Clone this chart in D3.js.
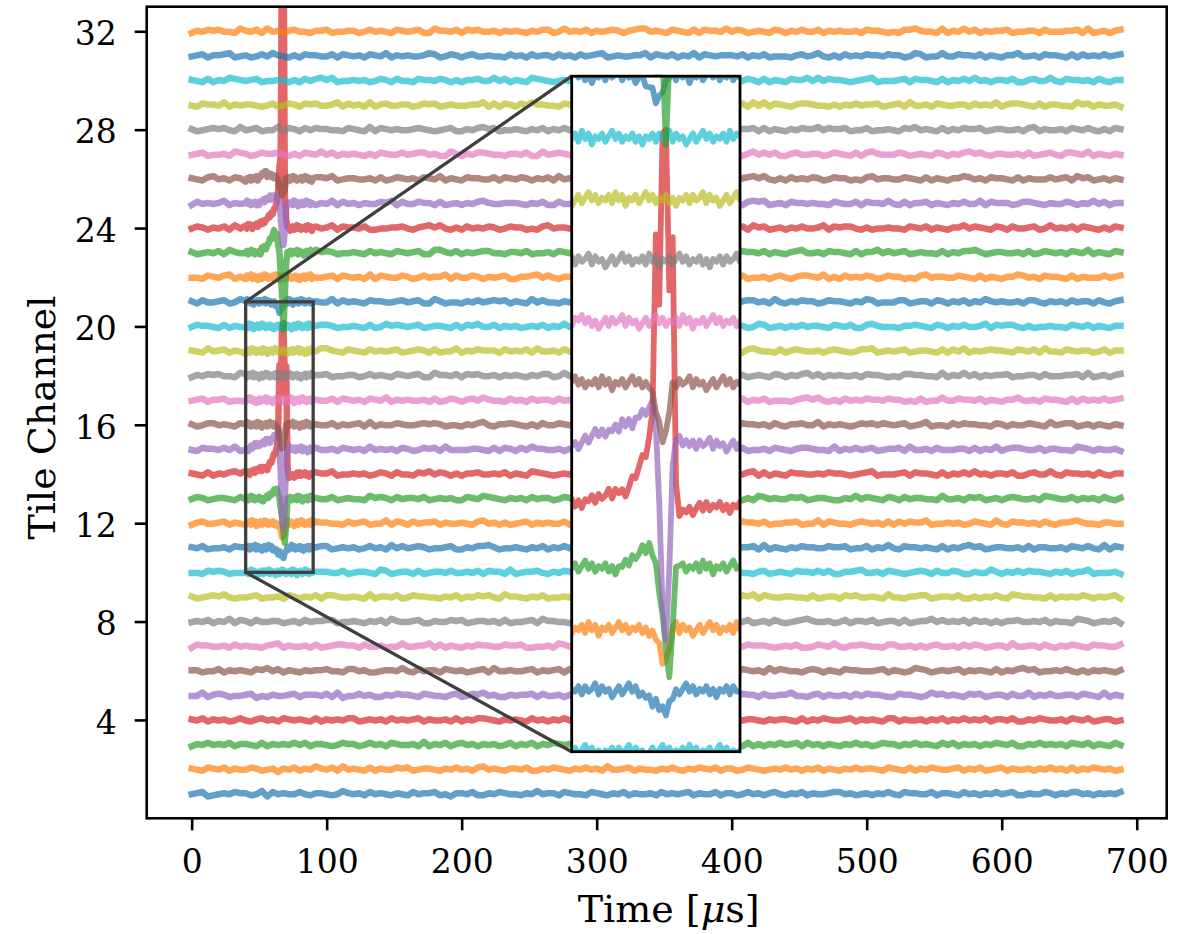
<!DOCTYPE html>
<html>
<head>
<meta charset="utf-8">
<script src="https://cdn.jsdelivr.net/npm/d3@7"></script>
<style>
  body { margin: 0; background: #fff; }
  svg text { font-family: "DejaVu Serif", serif; fill: #000; }
</style>
</head>
<body>
<svg id="chart" width="1189" height="934"></svg>
<script>
// ---------------- DATA ----------------
const channels = [1,2,3,4,5,6,7,8,9,10,11,12,13,14,15,16,17,18,19,20,21,22,23,24,25,26,27,28,29,30,31,32];
const xTicks = [0, 100, 200, 300, 400, 500, 600, 700];
const yTicks = [4, 8, 12, 16, 20, 24, 28, 32];
const xLabel = "Time [";
const xLabelMu = "μ";
const xLabelEnd = "s]";
const yLabel = "Tile Channel";

// sampled trace deviations, one digit per sample (every 4 µs from t = 0 to 688)
const sampleStep = 4;
const tMax = 688;
const noiseScale = 0.045;
const noiseBase = [
"4562345465 5347264544 6435543475 4536454354 3645563425 5463354654 4354745536 5443654354 6354453645 4563544635 5346453564 3546354456 6453453546 4365544635 5436453546 4563354465 3546645354 5463545346",
"5436546354 4653452546 3547546374 5436354465 6345543546 4536745435 5463354654 3546453744 5635443546 4354654635 5346543454 6453546354 3546455436 5436354654 4563546345 6354453546 4536354654 5346545435",
"3546454635 5436354546 4635543465 5346453654 4537354635 6453545346 3546354654 5463545436 4356453546 6345544635 5436353546 4563645354 3546453465 5354645436 4635453546 5463354645 4536546354 3645453546",
"5463545346 4356453654 5436354546 6345453645 4563544536 3546654354 5436453546 4653354465 5346546354 4563453646 3645543545 5436354654 4563545436 6354453546 3546454635 5463354654 4536546345 5346453546",
"4473565344 5624354456 3555463724 4645335465 5436544356 3465745335 4556364453 5345546374 4653354556 3547445365 4365536445 5744356354 4536465543 3655434756 4543656345 5364473546 4455365437 3546554465",
"5534463545 4365746354 3545564436 6453345547 4364553654 5345637445 4456354563 6354445536 3475546354 5536345465 4365453746 5443565354 3655444563 5434765345 4563545436 3546756344 5464353545 4356465436",
"3655445364 5443567354 4536345665 5364453447 4455736354 3546554465 5633445376 4546365435 5354456345 4765343556 3546555434 5463346547 4355654436 6445353564 4536465345 5374455364 3546543655 4465356434",
"4546354736 5364455345 3645566344 5435463754 4563354465 6345545363 4456375544 3565446355 5434656437 4365543546 5546345364 3456754453 4635546345 5363455746 4546364535 3556445463 5443765345 4635354556",
"5345657434 4563445365 3546366544 5437355463 4655443546 3546564375 5435463445 4656345354 3547554436 5463445365 4365736544 5544363455 3656445437 4435566345 5463353546 4376554436 3545465354 5634465437",
"4436565344 5563447354 3645554463 4554376345 5363455464 4546365537 3455643546 5364475344 4536556354 3645465437 5544356345 4365546463 3556744536 5434565364 4653354475 3546465543 5463557344 4535463546",
"5463445365 3647554436 4535663454 5346453746 4565344563 3546675344 5435463546 4656345735 3547455463 5364445536 4455637354 3546554465 5634463547 4365545436 3546756345 5445363554 4536546437 3654455346",
"3564456354 4735463545 5346554436 4563447365 3645563544 5436745353 4563545446 3547654435 5436456354 4654375545 3465546344 5563447365 4435654536 3646557344 5453465437 4365545364 3556754435 5443646365",
"4653455436 5346374554 3565446345 4437565364 5546345453 3654765435 4536455346 5345667344 4563545437 3546654365 5435376454 4656345543 3547465436 5364554437 4453656345 3565445376 5446354536 4356567344",
"5436354675 4563445536 3646557344 5453465364 4365746535 3556445463 5437654345 4635364556 3545567436 5364455345 4546736354 3655445465 5434567344 4563655436 3546474535 5463356447 4365545364 3556744536",
"4365546473 5543563454 3656445365 4537454536 5346563744 4455436365 3647554453 5436365547 4564453436 3545765354 5463445365 4356654437 3546456345 5637445364 4455363547 3566544635 5443765354 4536456345",
"5346645436 4563547365 3545446354 5637354465 4456565344 3546743556 5435364465 4654456345 3547365543 5463454736 4365545364 3556447354 5434656465 4563457344 3646554436 5354465437 4566345354 3545736465",
"4563556344 5346475435 3655446365 4536547354 5445363465 3564754436 4536455364 5364567345 4455436546 3547365455 5463546344 4356757435 3645465546 5534363447 4465546354 3557445365 5436364546 4564753435",
"3546564437 5463445356 4735563445 5346454365 4563375546 3656445354 5435466347 4546354565 3567445436 5436365547 4653454365 3546746354 5445365543 4366554437 3547463545 5634455364 4455637345 3565446354",
"5437456354 4565346345 3654775436 5436454563 4565363447 3546555364 5463744536 4355465345 3656547354 5445363465 4536754436 3565445356 5434667345 4563455436 3647354565 5436546374 4365455346 3556744535",
"4655436354 5346574436 3545665344 5436347565 4563455436 3657446354 5345463547 4456365435 3564754465 5436345556 4653476345 3546455436 5463367544 4355654365 3546445736 5664353445 4436546354 3557465436",
"5364456347 4546365435 3655447364 5436554456 4563375344 3546456563 5437464435 4566345354 3545746465 5463455436 4356645374 3546553465 5435476344 4663455365 3546354754 5445366435 4536455364 3567446354",
"4436546735 5563445354 3654456365 4537365446 5346455736 4465354563 3556746435 5434565364 4653455437 3546376545 5463445356 4356654735 3645465346 5534367455 4465436354 3557645365 5436354446 4563756345",
"5345463754 4656345436 3547565344 5436454365 4563377546 3545664435 5463445365 4356746354 3645555436 5534364457 4465546354 3567445365 5436355746 4563454436 3546675345 5445363465 4536547354 3655446365",
"4653546374 5345665434 3546457365 5463344556 4356757435 3645465346 5534367455 4465436354 3557645365 5436354446 4563756345 3546445736 5664353445 4436546354 3557465436 5364456347 4546365435 3655447364",
"3645457354 5436365445 4563547364 5354465736 4465536345 3546754455 5435463364 4656344575 3547556436 5364445354 4536767345 3655454436 5446365547 4363556354 3546447365 5534665435 4465354746 3557445365",
"5436745365 4563454436 3546657345 5445363465 4536547354 3655446365 4653546374 5345665434 3546457365 5463344556 4356757435 3645465346 5534367455 4465436354 3557645365 5436354446 4563756345 3546445736",
"4563445376 5346556435 3654746354 5435365446 4566453375 3546654435 5463374565 4355465346 3657544436 5446365355 4535746463 3564455346 5436367544 4653454365 3546756435 5445363456 4366547354 3545465637",
"5345656437 4563447365 3646554436 5437365454 4565434563 3546756344 5435463546 4656345375 3547464556 5364445736 4455636354 3546557465 5634463445 4365745436 3546556345 5445367354 4536546435 3654457346",
"4365547354 5543463465 3656445736 4537356445 5346563454 4455736365 3647554436 5436365453 4564456736 3545463354 5463747365 4356654435 3546455634 5637445365 4455364547 3566543635 5443756354 4536465345",
"5436354765 4563445535 3646757344 5453465364 4365546535 3556447463 5437654345 4635364556 3545567736 5364455345 4546536354 3655747465 5434567344 4563655436 3546474535 5463356447 4365545364 3556544736",
"4563556734 5346475435 3655446365 4536547354 5445763465 3564454436 4536455364 5364567345 4455736546 3547365455 5463546344 4356457435 3645465546 5534763447 4465546354 3557445365 5436364546 4564453735",
"3546564437 5463745356 4435563445 5346454365 4563375546 3656445354 5435466347 4546354565 3567745436 5436365547 4653454365 3546446354 5445365543 4366754437 3547463545 5634455364 4455637345 3565446354"
];

// finer samples (every 1 µs, t = 40..90) around the event
const detailStart = 40;
const detailNoise = {
  10: "4635746352 5463645736 4524635746 3546374625 4635746354 5",
  11: "5463645736 4524635746 3546374625 4635746354 6352546364 4",
  12: "3546374625 4635746354 6352546364 5736452463 5746354637 4",
  13: "4635746354 6352546364 5736452463 5746354637 4625463574 5",
  14: "6352546364 5736452463 5746354637 4625463574 6354635254 6",
  15: "4524635746 3546374625 4635746354 6352546364 5736452463 5",
  16: "5746354637 4625463574 6354635254 6364573645 2463574635 4",
  17: "3657463524 6364573645 2463574635 4637462546 3574635463 5",
  18: "6364573645 2463574635 4637462546 3574635463 5254636457 4",
  19: "2463574635 4637462546 3574635463 5254636457 3645246357 4",
  20: "4637462546 3574635463 5254636457 3645246357 4635463746 5",
  21: "5746352546 3645736452 4635746354 6374625463 5746354635 4",
  22: "3645736452 4635746354 6374625463 5746354635 2546364573 5",
  23: "4635746354 6374625463 5746354635 2546364573 6452463574 4",
  24: "6374625463 5746354635 2546364573 6452463574 6354637462 5",
  25: "5746354635 2546364573 6452463574 6354637462 5463574635 4",
  26: "2546364573 6452463574 6354637462 5463574635 4635746352 5"
};

// event pulse deviations (1 µs steps) per channel: first time and values
const pulseStart = { 11: 60, 12: 64, 13: 55, 14: 40, 15: 40, 16: 63, 21: 61, 23: 52, 24: 40, 25: 50, 26: 50 };
const pulseValues = {
  11: [-0.03,-0.06,-0.1,-0.15,-0.2,-0.25,-0.3,-0.33,-0.3,-0.2,-0.12,-0.05,0],
  12: [-0.05,-0.15,-0.3,-0.5,-0.58,-0.3,0],
  13: [0.03,0.06,0.1,0.13,0.16,0.2,0.25,0.3,0.33,0.22,0.05,-0.3,-0.75,-1.4,-1.72,-1.0,-0.1,0.05,0],
  14: [0.05,0.06,0.07,0.08,0.09,0.1,0.11,0.12,0.13,0.14,0.15,0.17,0.19,0.21,0.23,0.25,0.27,0.33,0.42,0.52,0.62,0.72,0.82,1.05,1.6,4.4,3.3,6.0,6.2,3.4,4.4,0.3,-0.05,-0.08,-0.08,-0.08,-0.08,-0.06,-0.06,-0.05],
  15: [0,0.02,0.04,0.06,0.08,0.1,0.12,0.14,0.16,0.18,0.2,0.22,0.24,0.26,0.28,0.3,0.32,0.35,0.38,0.42,0.46,0.5,0.55,0.58,0.6,0.3,-1.0,-2.6,-3.2,-2.0,-0.4,0.15,0.12,0.1,0.05],
  16: [-0.05,-0.2,-0.4,-0.65,-0.85,-0.8,-0.45,-0.05,0],
  21: [-0.05,-0.1,-0.2,-0.3,-0.42,-0.38,-0.2,-0.1,0],
  23: [0.1,0.15,0.2,0.25,0.3,0.4,0.5,0.6,0.7,0.8,0.8,0.7,0.4,0,-0.8,-1.8,-3.05,-1.8,-0.3,0],
  24: [0.03,0.04,0.05,0.06,0.07,0.08,0.09,0.1,0.11,0.12,0.13,0.15,0.18,0.22,0.27,0.32,0.38,0.45,0.52,0.6,0.68,0.76,0.85,1.0,1.5,2.4,3.0,13.0,12.5,1.5,0.3,0.05,0],
  25: [0.05,0.06,0.08,0.1,0.12,0.14,0.16,0.18,0.2,0.22,0.25,0.28,0.3,0.32,0.3,0.05,-0.5,-1.3,-1.8,-1.1,-0.2,0.05,0],
  26: [0.05,0.1,0.2,0.3,0.32,0.25,0.15,0.1,0.1,0.1,0.1,0.1,0.1,0.05,-0.1,-0.3,-0.5,-0.65,-0.6,-0.3,0]
};

// zoomed region
const zoomX = [40, 90];
const zoomY = [10, 21];

const tab10 = ["#1f77b4","#ff7f0e","#2ca02c","#d62728","#9467bd","#8c564b","#e377c2","#7f7f7f","#bcbd22","#17becf"];

// ---------------- BUILD SERIES ----------------
function decode(s) { return s.replace(/\s+/g, "").split("").map(c => (+c - 4.5) * noiseScale); }

const series = channels.map((ch, ci) => {
  const pts = [];
  const base = decode(noiseBase[ci]);
  const det = detailNoise[ch] ? decode(detailNoise[ch]) : null;
  const detEnd = det ? detailStart + det.length - 1 : -1;
  const pv = pulseValues[ch], p0 = pulseStart[ch];
  const pulseAt = t => (pv && t >= p0 && t - p0 < pv.length) ? pv[t - p0] : 0;
  base.forEach((v, i) => {
    const t = i * sampleStep;
    if (t > tMax) return;
    if (det && t >= detailStart && t <= detEnd) return;
    pts.push([t, ch + v + pulseAt(t)]);
  });
  if (det) det.forEach((v, k) => {
    const t = detailStart + k;
    pts.push([t, ch + v + pulseAt(t)]);
  });
  pts.sort((a, b) => a[0] - b[0]);
  return { ch, color: tab10[ci % 10], pts };
});

// ---------------- LAYOUT ----------------
const svg = d3.select("#chart");
const plot = { left: 146.7, right: 1166.7, top: 6.7, bottom: 818.3 };
const inset = { left: 571.7, right: 740, top: 76.2, bottom: 751.7 };
const x = d3.scaleLinear().domain([-33.3, 722.2]).range([plot.left, plot.right]);
const y = d3.scaleLinear().domain([0, 33]).range([plot.bottom, plot.top]);
const xi = d3.scaleLinear().domain(zoomX).range([inset.left, inset.right]);
const yi = d3.scaleLinear().domain(zoomY).range([inset.bottom, inset.top]);

const defs = svg.append("defs");
defs.append("clipPath").attr("id", "clipMain").append("rect")
  .attr("x", plot.left).attr("y", plot.top)
  .attr("width", plot.right - plot.left).attr("height", plot.bottom - plot.top);
defs.append("clipPath").attr("id", "clipInset").append("rect")
  .attr("x", inset.left).attr("y", inset.top)
  .attr("width", inset.right - inset.left).attr("height", inset.bottom - inset.top);

const LW_MAIN = 6.5, LW_INSET = 5.8;
const lineMain = d3.line().x(d => x(d[0])).y(d => y(d[1]));
const lineInset = d3.line().x(d => xi(d[0])).y(d => yi(d[1]));

const gMain = svg.append("g").attr("clip-path", "url(#clipMain)");
gMain.selectAll("path").data(series).join("path")
  .attr("d", d => lineMain(d.pts))
  .attr("fill", "none").attr("stroke", d => d.color)
  .attr("stroke-opacity", 0.7).attr("stroke-width", LW_MAIN)
  .attr("stroke-linejoin", "round").attr("stroke-linecap", "square");

// axes
const xAxis = d3.axisBottom(x).tickValues(xTicks).tickSize(12).tickSizeOuter(0).tickPadding(19);
const yAxis = d3.axisLeft(y).tickValues(yTicks).tickSize(12).tickSizeOuter(0).tickPadding(18);
const gx = svg.append("g").attr("transform", `translate(0,${plot.bottom})`).call(xAxis);
const gy = svg.append("g").attr("transform", `translate(${plot.left},0)`).call(yAxis);
[gx, gy].forEach(g => {
  g.select(".domain").remove();
  g.selectAll(".tick line").attr("stroke", "#000").attr("stroke-width", 2.6);
  g.selectAll(".tick text").attr("font-size", 33).attr("font-family", "DejaVu Serif").attr("fill", "#000");
});
gy.selectAll(".tick text").attr("dy", "0.4em");

svg.append("rect")
  .attr("x", plot.left).attr("y", plot.top)
  .attr("width", plot.right - plot.left).attr("height", plot.bottom - plot.top)
  .attr("fill", "none").attr("stroke", "#000").attr("stroke-width", 2.6);

// labels
const xl = svg.append("text").attr("x", (plot.left + plot.right) / 2 + 12).attr("y", 922)
  .attr("text-anchor", "middle").attr("font-size", 38);
xl.append("tspan").text(xLabel);
xl.append("tspan").attr("font-style", "italic").text(xLabelMu);
xl.append("tspan").text(xLabelEnd);

svg.append("text")
  .attr("transform", `translate(55,${(plot.top + plot.bottom) / 2 + 5}) rotate(-90)`)
  .attr("text-anchor", "middle").attr("font-size", 38).text(yLabel);

// zoom indicator
const indColor = "#3f3f3f";
svg.append("rect")
  .attr("x", x(zoomX[0])).attr("y", y(zoomY[1]))
  .attr("width", x(zoomX[1]) - x(zoomX[0])).attr("height", y(zoomY[0]) - y(zoomY[1]))
  .attr("fill", "none").attr("stroke", indColor).attr("stroke-width", 3.3);
svg.append("line")
  .attr("x1", x(zoomX[0])).attr("y1", y(zoomY[1])).attr("x2", inset.left).attr("y2", inset.top)
  .attr("stroke", indColor).attr("stroke-width", 3.3);
svg.append("line")
  .attr("x1", x(zoomX[0])).attr("y1", y(zoomY[0])).attr("x2", inset.left).attr("y2", inset.bottom)
  .attr("stroke", indColor).attr("stroke-width", 3.3);

// inset
svg.append("rect")
  .attr("x", inset.left).attr("y", inset.top)
  .attr("width", inset.right - inset.left).attr("height", inset.bottom - inset.top)
  .attr("fill", "#fff");
const gIn = svg.append("g").attr("clip-path", "url(#clipInset)");
gIn.selectAll("path").data(series).join("path")
  .attr("d", d => lineInset(d.pts))
  .attr("fill", "none").attr("stroke", d => d.color)
  .attr("stroke-opacity", 0.7).attr("stroke-width", LW_INSET)
  .attr("stroke-linejoin", "round").attr("stroke-linecap", "square");
svg.append("rect")
  .attr("x", inset.left).attr("y", inset.top)
  .attr("width", inset.right - inset.left).attr("height", inset.bottom - inset.top)
  .attr("fill", "none").attr("stroke", "#000").attr("stroke-width", 2.8);
</script>
</body>
</html>
